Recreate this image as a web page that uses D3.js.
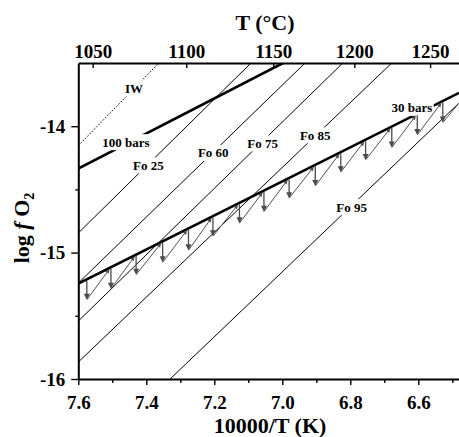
<!DOCTYPE html>
<html>
<head>
<meta charset="utf-8">
<script src="https://cdn.jsdelivr.net/npm/d3@7"></script>
<style>
  body { margin: 0; background: #fff; }
  svg { display: block; font-family: "Liberation Serif", "Times New Roman", serif; font-weight: bold; }
</style>
</head>
<body>
<svg id="chart" width="459" height="437"></svg>
<script>
// ---- data (x = 10000/T in K, y = log fO2) ----
// thin olivine-composition isopleths
const foNames = ["Fo 25", "Fo 60", "Fo 75", "Fo 85", "Fo 95"];
const foStart = [[7.6, -14.845], [7.6, -15.241], [7.6, -15.542], [7.6, -15.866], [7.33, -16.0]];
const foEnd   = [[7.092, -13.5], [6.933, -13.5], [6.822, -13.5], [6.678, -13.5], [6.48, -13.816]];

// iron-wüstite buffer (dotted)
const iwLine = [[7.6, -14.154], [7.363, -13.5]];

// pressure curves (thick)
const bar100 = [[7.6, -14.335], [6.998, -13.5]];
const bar30  = [[7.6, -15.245], [6.48, -13.736]];

// stepwise path below the 30 bar curve: drop positions and drop ends
const stepX      = [7.575, 7.504, 7.430, 7.352, 7.276, 7.204, 7.126, 7.054, 6.980, 6.903, 6.828, 6.755, 6.678, 6.603, 6.528];
const stepBottom = [-15.373, -15.286, -15.175, -15.077, -14.982, -14.871, -14.768, -14.676, -14.570, -14.473, -14.364, -14.267, -14.169, -14.069, -13.971];

// tick values
const xMajor = [7.6, 7.4, 7.2, 7.0, 6.8, 6.6];
const xMinor = [7.5, 7.3, 7.1, 6.9, 6.7, 6.5];
const yMajor = [-16, -15, -14];
const yMinor = [-15.5, -14.5];
const tC     = [1050, 1100, 1150, 1200, 1250];

// in-plot annotations
const labelText = ["IW", "100 bars", "Fo 25", "Fo 60", "Fo 75", "Fo 85", "Fo 95", "30 bars"];
const labelX    = [7.436, 7.460, 7.394, 7.203, 7.058, 6.903, 6.796, 6.619];
const labelY    = [-13.736, -14.162, -14.346, -14.247, -14.172, -14.108, -14.676, -13.891];

// ---- layout ----
const L = 78.3, R = 459.1, T = 63, B = 379;
const svg = d3.select("#chart");
const x = d3.scaleLinear().domain([7.6, 6.48]).range([L, R]);
const y = d3.scaleLinear().domain([-16, -13.5]).range([B, T]);
const line = d3.line().x(d => x(d[0])).y(d => y(d[1]));

// value of the 30 bar curve at a given 10000/T
const y30 = d3.scaleLinear().domain([bar30[0][0], bar30[1][0]]).range([bar30[0][1], bar30[1][1]]);

const defs = svg.append("defs");
defs.append("clipPath").attr("id", "plot")
  .append("rect").attr("x", L).attr("y", T).attr("width", R - L).attr("height", B - T);

const plot = svg.append("g").attr("clip-path", "url(#plot)");

// isopleths
plot.selectAll("path.fo").data(foNames).join("path")
  .attr("class", "fo")
  .attr("d", (d, i) => line([foStart[i], foEnd[i]]))
  .attr("fill", "none").attr("stroke", "#000").attr("stroke-width", 1);

// IW buffer
plot.append("path").attr("d", line(iwLine))
  .attr("fill", "none").attr("stroke", "#000").attr("stroke-width", 1)
  .attr("stroke-dasharray", "1.6,1.6");

// pressure curves
[bar100, bar30].forEach(c => {
  plot.append("path").attr("d", line(c))
    .attr("fill", "none").attr("stroke", "#000").attr("stroke-width", 2.6);
});

// annotation labels with white backing
const labG = svg.append("g").attr("font-size", 13).attr("text-anchor", "middle");
labelText.forEach((t, i) => {
  const g = labG.append("g");
  const tx = g.append("text").attr("x", x(labelX[i])).attr("y", y(labelY[i])).text(t);
  const bb = tx.node().getBBox();
  g.insert("rect", "text")
    .attr("x", bb.x - 1.5).attr("y", bb.y - 0.5)
    .attr("width", bb.width + 3).attr("height", bb.height + 1)
    .attr("fill", "#fff");
});

// ---- axes ----
const axisStyle = g => {
  g.attr("font-family", null).attr("font-size", null);
  g.select(".domain").attr("stroke-width", 2);
  g.selectAll(".tick line").attr("stroke-width", 1.4);
  g.selectAll("text").attr("font-size", 19).attr("font-weight", "bold").attr("fill", "#000");
};

// bottom
svg.append("g").attr("transform", `translate(0,${B})`)
  .call(d3.axisBottom(x).tickValues(xMajor).tickFormat(d => d.toFixed(1)).tickSize(6).tickSizeOuter(0).tickPadding(11))
  .call(axisStyle);
svg.append("g").attr("transform", `translate(0,${B})`)
  .call(d3.axisBottom(x).tickValues(xMinor).tickFormat("").tickSize(4).tickSizeOuter(0))
  .call(g => g.select(".domain").remove())
  .call(g => g.selectAll(".tick line").attr("stroke-width", 1.4));

// left
svg.append("g").attr("transform", `translate(${L},0)`)
  .call(d3.axisLeft(y).tickValues(yMajor).tickFormat(d => String(d)).tickSize(7).tickSizeOuter(0).tickPadding(6))
  .call(axisStyle);
svg.append("g").attr("transform", `translate(${L},0)`)
  .call(d3.axisLeft(y).tickValues(yMinor).tickFormat("").tickSize(3).tickSizeOuter(0))
  .call(g => g.select(".domain").remove())
  .call(g => g.selectAll(".tick line").attr("stroke-width", 1.4));

// top: temperature in °C
const topAxis = d3.axisTop(x).tickValues(tC.map(c => 10000 / (c + 273.15)))
  .tickFormat((d, i) => tC[i]).tickSize(-5).tickSizeOuter(0).tickPadding(5);
svg.append("g").attr("transform", `translate(0,${T})`).call(topAxis).call(axisStyle);

// axis titles
svg.append("text").attr("x", 265).attr("y", 30).attr("text-anchor", "middle")
  .attr("font-size", 22).text("T (°C)");
svg.append("text").attr("x", 270).attr("y", 433).attr("text-anchor", "middle")
  .attr("font-size", 22).text("10000/T (K)");

const yt = svg.append("text").attr("transform", "translate(29,228) rotate(-90)")
  .attr("text-anchor", "middle").attr("font-size", 22);
yt.append("tspan").text("log ");
yt.append("tspan").attr("font-style", "italic").text("f");
yt.append("tspan").text(" O");
yt.append("tspan").attr("font-size", 14).attr("dy", 5).text("2");

// ---- stepwise arrows: drop below the 30 bar curve, then climb back to it ----
const steps = svg.append("g").attr("class", "steps");

function head(xt, yt, ang, len, half, color) {
  const bx = xt - len * Math.cos(ang), by = yt - len * Math.sin(ang);
  const px = -Math.sin(ang) * half, py = Math.cos(ang) * half;
  steps.append("path")
    .attr("d", `M${xt},${yt}L${bx + px},${by + py}L${bx - px},${by - py}Z`)
    .attr("fill", color).attr("stroke", "none");
}

// climbs (thin, lighter)
const climbs = stepX.map((sx, i) => {
  const x0 = x(sx), y0 = y(stepBottom[i]);
  if (i < stepX.length - 1) {
    const nx = stepX[i + 1] + 0.004;
    return { x0, y0, x1: x(nx), y1: y(y30(nx)) + 1, tip: true };
  }
  // last climb runs off the right edge of the frame
  return { x0, y0, x1: R, y1: y0 - (R - x0) * 1.2, tip: false };
});
climbs.forEach(c => {
  const ang = Math.atan2(c.y1 - c.y0, c.x1 - c.x0);
  const ex = c.tip ? c.x1 - 4 * Math.cos(ang) : c.x1;
  const ey = c.tip ? c.y1 - 4 * Math.sin(ang) : c.y1;
  steps.append("path")
    .attr("d", `M${c.x0},${c.y0}L${ex},${ey}`)
    .attr("fill", "none").attr("stroke", "#505050").attr("stroke-width", 1);
  if (c.tip) head(c.x1, c.y1, ang, 4.5, 2.1, "#505050");
});

// drops (vertical, darker)
stepX.forEach((sx, i) => {
  const x0 = x(sx), yTop = y(y30(sx)) + 1.5, yBot = y(stepBottom[i]);
  steps.append("path")
    .attr("d", `M${x0},${yTop}L${x0},${yBot - 5}`)
    .attr("fill", "none").attr("stroke", "#4a4a4a").attr("stroke-width", 1.3);
  head(x0, yBot, Math.PI / 2, 6, 3, "#4a4a4a");
});
</script>
</body>
</html>
